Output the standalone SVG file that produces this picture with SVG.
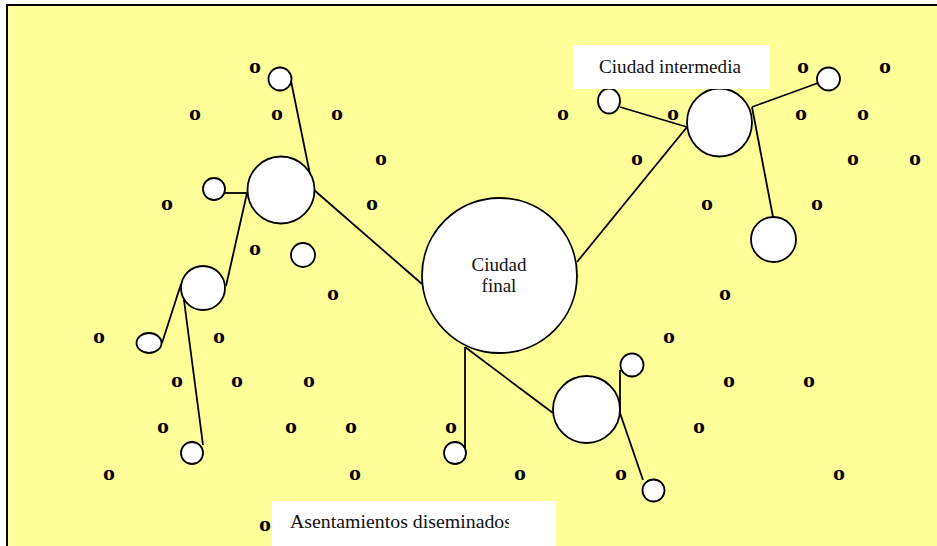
<svg xmlns="http://www.w3.org/2000/svg" width="937" height="546" viewBox="0 0 937 546">
<style>
.bg{fill:#FFFF99;stroke:#000;stroke-width:2}
.c{fill:#fff;stroke:#000;stroke-width:1.8}
.ln{stroke:#000;stroke-width:1.8;fill:none}
.o{font-family:'Liberation Serif','Times New Roman',Times,serif;font-weight:bold;font-size:20px;fill:#000;text-anchor:middle}
.lbl{font-family:'Liberation Serif','Times New Roman',Times,serif;font-size:19px;fill:#111}
.box{fill:#fff}
</style>
<defs>
<clipPath id="clipA"><rect x="272" y="501" width="237" height="45"/></clipPath>
</defs>
<rect class="bg" x="7" y="5" width="940" height="560"/>
<g id="settlements">
<text class="o" x="255" y="73" textLength="12" lengthAdjust="spacingAndGlyphs">o</text>
<text class="o" x="803" y="73" textLength="12" lengthAdjust="spacingAndGlyphs">o</text>
<text class="o" x="885" y="73" textLength="12" lengthAdjust="spacingAndGlyphs">o</text>
<text class="o" x="195" y="120" textLength="12" lengthAdjust="spacingAndGlyphs">o</text>
<text class="o" x="277" y="120" textLength="12" lengthAdjust="spacingAndGlyphs">o</text>
<text class="o" x="337" y="120" textLength="12" lengthAdjust="spacingAndGlyphs">o</text>
<text class="o" x="563" y="120" textLength="12" lengthAdjust="spacingAndGlyphs">o</text>
<text class="o" x="673" y="120" textLength="12" lengthAdjust="spacingAndGlyphs">o</text>
<text class="o" x="801" y="120" textLength="12" lengthAdjust="spacingAndGlyphs">o</text>
<text class="o" x="863" y="120" textLength="12" lengthAdjust="spacingAndGlyphs">o</text>
<text class="o" x="381" y="165" textLength="12" lengthAdjust="spacingAndGlyphs">o</text>
<text class="o" x="637" y="165" textLength="12" lengthAdjust="spacingAndGlyphs">o</text>
<text class="o" x="853" y="165" textLength="12" lengthAdjust="spacingAndGlyphs">o</text>
<text class="o" x="915" y="165" textLength="12" lengthAdjust="spacingAndGlyphs">o</text>
<text class="o" x="167" y="210" textLength="12" lengthAdjust="spacingAndGlyphs">o</text>
<text class="o" x="372" y="210" textLength="12" lengthAdjust="spacingAndGlyphs">o</text>
<text class="o" x="707" y="210" textLength="12" lengthAdjust="spacingAndGlyphs">o</text>
<text class="o" x="817" y="210" textLength="12" lengthAdjust="spacingAndGlyphs">o</text>
<text class="o" x="255" y="255" textLength="12" lengthAdjust="spacingAndGlyphs">o</text>
<text class="o" x="333" y="300" textLength="12" lengthAdjust="spacingAndGlyphs">o</text>
<text class="o" x="725" y="300" textLength="12" lengthAdjust="spacingAndGlyphs">o</text>
<text class="o" x="99" y="343" textLength="12" lengthAdjust="spacingAndGlyphs">o</text>
<text class="o" x="219" y="343" textLength="12" lengthAdjust="spacingAndGlyphs">o</text>
<text class="o" x="669" y="343" textLength="12" lengthAdjust="spacingAndGlyphs">o</text>
<text class="o" x="177" y="387" textLength="12" lengthAdjust="spacingAndGlyphs">o</text>
<text class="o" x="237" y="387" textLength="12" lengthAdjust="spacingAndGlyphs">o</text>
<text class="o" x="309" y="387" textLength="12" lengthAdjust="spacingAndGlyphs">o</text>
<text class="o" x="729" y="387" textLength="12" lengthAdjust="spacingAndGlyphs">o</text>
<text class="o" x="809" y="387" textLength="12" lengthAdjust="spacingAndGlyphs">o</text>
<text class="o" x="163" y="433" textLength="12" lengthAdjust="spacingAndGlyphs">o</text>
<text class="o" x="291" y="433" textLength="12" lengthAdjust="spacingAndGlyphs">o</text>
<text class="o" x="351" y="433" textLength="12" lengthAdjust="spacingAndGlyphs">o</text>
<text class="o" x="451" y="433" textLength="12" lengthAdjust="spacingAndGlyphs">o</text>
<text class="o" x="699" y="433" textLength="12" lengthAdjust="spacingAndGlyphs">o</text>
<text class="o" x="109" y="480" textLength="12" lengthAdjust="spacingAndGlyphs">o</text>
<text class="o" x="355" y="480" textLength="12" lengthAdjust="spacingAndGlyphs">o</text>
<text class="o" x="520" y="480" textLength="12" lengthAdjust="spacingAndGlyphs">o</text>
<text class="o" x="621" y="480" textLength="12" lengthAdjust="spacingAndGlyphs">o</text>
<text class="o" x="839" y="480" textLength="12" lengthAdjust="spacingAndGlyphs">o</text>
<text class="o" x="265" y="531" textLength="12" lengthAdjust="spacingAndGlyphs">o</text>
</g>
<g id="connectors">
<line class="ln" x1="291" y1="81" x2="313" y2="189"/>
<line class="ln" x1="314" y1="190" x2="422" y2="284"/>
<line class="ln" x1="225" y1="193" x2="247" y2="193"/>
<line class="ln" x1="247" y1="193" x2="226" y2="286"/>
<line class="ln" x1="181" y1="284" x2="162" y2="343"/>
<line class="ln" x1="182" y1="285" x2="203" y2="445"/>
<line class="ln" x1="577" y1="262" x2="687" y2="127"/>
<line class="ln" x1="620" y1="107" x2="687" y2="127"/>
<line class="ln" x1="752" y1="107" x2="818" y2="83"/>
<line class="ln" x1="752" y1="107" x2="773" y2="217"/>
<line class="ln" x1="465" y1="347" x2="465" y2="459"/>
<line class="ln" x1="465" y1="347" x2="553" y2="413"/>
<line class="ln" x1="620" y1="370" x2="620" y2="413"/>
<line class="ln" x1="620" y1="413" x2="643" y2="480"/>
</g>
<g id="city-final"><circle class="c" cx="499.5" cy="275.5" r="77.5"/>
<text class="lbl" x="499" y="271" text-anchor="middle">Ciudad</text>
<text class="lbl" x="499" y="292" text-anchor="middle">final</text></g>
<g id="city-intermedia-1"><ellipse class="c" cx="719.5" cy="122.5" rx="32.5" ry="34"/></g>
<g id="city-intermedia-2"><circle class="c" cx="281" cy="190" r="33.5"/></g>
<g id="city-intermedia-3"><circle class="c" cx="586.5" cy="409.5" r="33.5"/></g>
<g id="town-1"><circle class="c" cx="203" cy="288" r="22"/></g>
<g id="town-2"><circle class="c" cx="773.5" cy="239.5" r="22.5"/></g>
<g id="village-1"><circle class="c" cx="280" cy="79" r="11.5"/></g>
<g id="village-2"><circle class="c" cx="214" cy="189" r="11"/></g>
<g id="village-3"><circle class="c" cx="303" cy="255" r="12"/></g>
<g id="village-4"><ellipse class="c" cx="149" cy="343" rx="12.5" ry="10"/></g>
<g id="village-5"><circle class="c" cx="192" cy="453" r="11"/></g>
<g id="village-6"><circle class="c" cx="455" cy="453" r="11"/></g>
<g id="village-7"><circle class="c" cx="632" cy="365" r="11.5"/></g>
<g id="village-8"><circle class="c" cx="653.5" cy="490.5" r="11"/></g>
<g id="village-9"><ellipse class="c" cx="609" cy="101" rx="11" ry="12.5"/></g>
<g id="village-10"><circle class="c" cx="828.5" cy="79" r="11.5"/></g>
<g id="label-intermedia"><rect class="box" x="573" y="45" width="197" height="44"/>
<text class="lbl" x="599" y="73" textLength="142" lengthAdjust="spacingAndGlyphs">Ciudad intermedia</text></g>
<g id="label-diseminados"><rect class="box" x="272" y="501" width="284" height="45"/>
<text class="lbl" x="290" y="528" textLength="222" lengthAdjust="spacingAndGlyphs" clip-path="url(#clipA)">Asentamientos diseminados</text></g>
</svg>
